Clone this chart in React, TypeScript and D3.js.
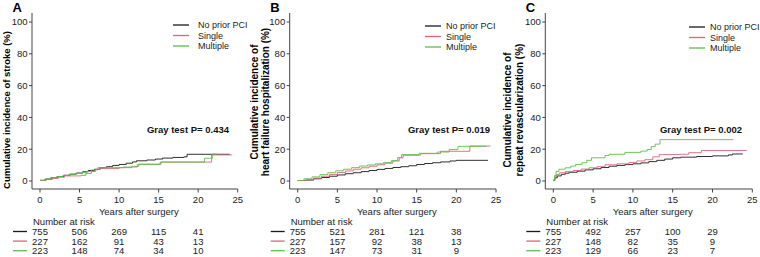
import React from "react";
import * as d3 from "d3";

// ---------- data ----------
const X_TICKS = [0, 5, 10, 15, 20, 25];
const Y_TICKS = [0, 20, 40, 60, 80, 100];
const RISK_TIMES = [0, 5, 10, 15, 20];
const SERIES_NAMES = ["No prior PCI", "Single", "Multiple"];
const SERIES_COLORS = ["#1a1a1a", "#dc6478", "#5cbf4a"];

const PANEL_LETTERS = ["A", "B", "C"];
const PANEL_TITLES = [
  ["Cumulative incidence of stroke (%)"],
  ["Cumulative incidence of", "heart failure hospitalization (%)"],
  ["Cumulative incidence of", "repeat revascularization (%)"],
];
const P_VALUES = ["0.434", "0.019", "0.002"];

// Panel A: stroke
const strokeNoPrior: [number, number][] = [
  [0, 0.4], [0.7, 1.2], [1.4, 2.0], [2.2, 2.8], [3, 3.6], [3.8, 4.3], [4.6, 5.0], [5.4, 5.8],
  [6.1, 6.6], [6.9, 7.4], [7.6, 8.3], [8.4, 9.0], [9.2, 9.8], [10, 10.4], [10.9, 11.2],
  [11.7, 12.0], [12.2, 12.7], [13.5, 13.2], [14.6, 13.8], [15.5, 14.4], [16.8, 14.8],
  [18.2, 15.2], [18.6, 16.8], [24, 16.8],
];
const strokeSingle: [number, number][] = [
  [0, 0.4], [0.8, 1.0], [1.6, 1.8], [2.4, 2.4], [3.1, 3.2], [5.2, 3.6], [5.8, 4.8], [6.5, 6.0],
  [7.0, 7.2], [7.6, 7.8], [10.0, 8.4], [11.6, 9.2], [12.5, 10.6], [15.3, 11.9], [21.7, 16.4],
  [24.3, 16.4],
];
const strokeMultiple: [number, number][] = [
  [0, 0.4], [0.6, 1.2], [1.3, 2.0], [2.1, 2.8], [2.9, 3.5], [3.7, 4.2], [4.5, 4.8], [5.3, 5.3],
  [5.9, 6.0], [6.5, 7.0], [7.3, 8.4], [10.5, 8.8], [12.3, 10.4], [15.2, 11.9], [20.8, 14.3],
  [21.8, 16.9], [22.4, 16.9],
];

// Panel B: heart failure hospitalization
const hfNoPrior: [number, number][] = [
  [0, 0.3], [1, 0.6], [2, 1.4], [3, 2.2], [4, 3.0], [5, 3.8], [6, 4.6], [7, 5.2], [8, 5.9],
  [9, 6.6], [10, 7.3], [11, 7.9], [12, 8.5], [13, 9.0], [14, 9.6], [15, 10.4], [16, 11.0],
  [17, 11.5], [18, 12.0], [19.2, 12.6], [20, 13.0], [24, 13.0],
];
const hfSingle: [number, number][] = [
  [0, 0.3], [1, 0.7], [2, 1.8], [3, 3.0], [4, 4.1], [5, 5.3], [6, 6.3], [7, 7.4], [8, 8.3],
  [9, 9.3], [10, 10.2], [11, 11.2], [12, 12.6], [12.8, 14.6], [13.3, 16.2], [15.5, 17.2],
  [18, 18.7], [21.7, 22.0], [24.3, 22.0],
];
const hfMultiple: [number, number][] = [
  [0, 0.3], [0.8, 1.4], [1.8, 2.6], [2.8, 4.0], [3.8, 5.2], [4.8, 6.4], [5.8, 7.4], [6.8, 8.4],
  [7.8, 9.4], [8.8, 10.1], [9.8, 10.8], [10.8, 11.6], [11.8, 12.8], [12.6, 14.8], [13.1, 16.6],
  [15.3, 17.4], [17.6, 18.2], [19.1, 19.8], [20.2, 21.8], [23.8, 21.8],
];

// Panel C: repeat revascularization
const revNoPrior: [number, number][] = [
  [0, 0.5], [0.2, 2.0], [0.5, 3.2], [1, 4.2], [1.5, 4.9], [2, 5.5], [3, 6.2], [4, 7.0],
  [5, 7.7], [6, 8.5], [7, 9.3], [8, 9.8], [9, 10.3], [10, 10.8], [11, 11.4], [12, 12.2],
  [13, 13.0], [14, 13.8], [15, 14.6], [16, 15.0], [18, 15.4], [20, 15.8], [22, 16.4],
  [22.5, 17.0], [23.8, 17.0],
];
const revSingle: [number, number][] = [
  [0, 0.5], [0.2, 2.6], [0.4, 4.2], [0.8, 5.2], [1.5, 5.9], [2.5, 6.6], [3.5, 7.5], [4.5, 8.3],
  [5.5, 9.0], [6.5, 10.2], [8, 10.8], [9.5, 11.7], [10.5, 12.6], [11.5, 13.4], [12.5, 15.2],
  [13.3, 16.6], [15.8, 16.8], [17, 17.8], [18.6, 19.2], [24.3, 19.2],
];
const revMultiple: [number, number][] = [
  [0, 0.5], [0.15, 3.5], [0.35, 6.0], [0.7, 7.4], [1.5, 8.3], [2.2, 9.4], [2.8, 10.4],
  [3.6, 11.5], [4.2, 13.0], [4.8, 14.6], [6.5, 16.0], [7, 16.8], [9, 18.0], [11, 18.8],
  [11.8, 19.8], [12.3, 21.6], [12.8, 23.2], [13.4, 26.0], [22.6, 26.0],
];

const RISK_A = [[755, 506, 269, 115, 41], [227, 162, 91, 43, 13], [223, 148, 74, 34, 10]];
const RISK_B = [[755, 521, 281, 121, 38], [227, 157, 92, 38, 13], [223, 147, 73, 31, 9]];
const RISK_C = [[755, 492, 257, 100, 29], [227, 148, 82, 35, 9], [223, 129, 66, 23, 7]];

const CURVES = [
  [strokeNoPrior, strokeSingle, strokeMultiple],
  [hfNoPrior, hfSingle, hfMultiple],
  [revNoPrior, revSingle, revMultiple],
];
const RISKS = [RISK_A, RISK_B, RISK_C];

// ---------- layout ----------
const LAYOUT = [
  { x0: 40, x1: 237.7, titleX: [6.5], titleY: 110, titleSize: 9.5, legendX: 173, legendTextX: 198, legendY: 25, pRight: 229 },
  { x0: 297.7, x1: 496, titleX: [254, 265.5], titleY: 102, titleSize: 10, legendX: 425, legendTextX: 446, legendY: 26, pRight: 490 },
  { x0: 553.3, x1: 752.3, titleX: [507.5, 519], titleY: 110, titleSize: 10, legendX: 689, legendTextX: 710, legendY: 27, pRight: 742 },
];
const Y0 = 181;
const Y100 = 22;
const AXIS_Y = 189;
const FONT = "'Liberation Sans', Arial, Helvetica, sans-serif";

function Panel({ idx }: { idx: number }) {
  const L = LAYOUT[idx];
  const x = d3.scaleLinear().domain([0, 25]).range([L.x0, L.x1]);
  const y = d3.scaleLinear().domain([0, 100]).range([Y0, Y100]);
  const line = d3
    .line<[number, number]>()
    .x((d) => x(d[0]))
    .y((d) => y(d[1]))
    .curve(d3.curveStepAfter);
  const axisX = L.x0 - 8;
  const titles = PANEL_TITLES[idx];
  const risk = RISKS[idx];
  return (
    <g fontFamily={FONT}>
      <text x={axisX - 19.5} y={12} fontSize={13} fontWeight="bold" fill="#000">
        {PANEL_LETTERS[idx]}
      </text>
      {titles.map((t, i) => (
        <text
          key={i}
          transform={`translate(${L.titleX[i]},${L.titleY}) rotate(-90)`}
          textAnchor="middle"
          dominantBaseline="central"
          fontSize={L.titleSize}
          fontWeight="bold"
          fill="#000"
        >
          {t}
        </text>
      ))}
      {/* y axis */}
      <line x1={axisX} x2={axisX} y1={13} y2={AXIS_Y} stroke="#444" strokeWidth={1} />
      {Y_TICKS.map((t) => (
        <g key={t}>
          <line x1={axisX - 3} x2={axisX} y1={y(t)} y2={y(t)} stroke="#444" />
          <text x={axisX - 4.5} y={y(t) + 3.4} textAnchor="end" fontSize={9.5} fill="#222">
            {t}
          </text>
        </g>
      ))}
      {/* x axis */}
      <line x1={axisX} x2={x(25)} y1={AXIS_Y} y2={AXIS_Y} stroke="#444" strokeWidth={1} />
      {X_TICKS.map((t) => (
        <g key={t}>
          <line x1={x(t)} x2={x(t)} y1={AXIS_Y} y2={AXIS_Y + 3.5} stroke="#444" />
          <text x={x(t)} y={203} textAnchor="middle" fontSize={9.5} fill="#222">
            {t}
          </text>
        </g>
      ))}
      <text x={x(12.5)} y={214.5} textAnchor="middle" fontSize={9.5} fill="#222">
        Years after surgery
      </text>
      {/* curves */}
      {CURVES[idx].map((s, i) => (
        <path key={i} d={line(s) || ""} fill="none" stroke={SERIES_COLORS[i]} strokeWidth={0.9} />
      ))}
      {/* legend */}
      {SERIES_NAMES.map((n, i) => (
        <g key={n}>
          <line
            x1={L.legendX}
            x2={L.legendX + 16}
            y1={L.legendY + i * 10.5}
            y2={L.legendY + i * 10.5}
            stroke={SERIES_COLORS[i]}
            strokeWidth={1.3}
          />
          <text x={L.legendTextX} y={L.legendY + i * 10.5 + 3.2} fontSize={9} fill="#222">
            {n}
          </text>
        </g>
      ))}
      {/* gray test */}
      <text x={L.pRight} y={133} textAnchor="end" fontSize={9.5} fontWeight="bold" fill="#111">
        {`Gray test P= ${P_VALUES[idx]}`}
      </text>
      {/* risk table */}
      <text x={L.x0 - 7} y={224.5} fontSize={9.5} fill="#222">
        Number at risk
      </text>
      {risk.map((row, r) => (
        <g key={r}>
          <line
            x1={L.x0 - 27}
            x2={L.x0 - 13}
            y1={231.5 + r * 9.6}
            y2={231.5 + r * 9.6}
            stroke={SERIES_COLORS[r]}
            strokeWidth={1.3}
          />
          {row.map((v, j) => (
            <text
              key={j}
              x={x(RISK_TIMES[j])}
              y={235 + r * 9.6}
              textAnchor="middle"
              fontSize={9.5}
              fill="#222"
            >
              {v}
            </text>
          ))}
        </g>
      ))}
    </g>
  );
}

export default function App() {
  return (
    <svg
      width={760}
      height={257}
      style={{ position: "absolute", left: 0, top: 0, display: "block", background: "#fff" }}
    >
      <rect width={760} height={257} fill="#fff" />
      {[0, 1, 2].map((i) => (
        <Panel key={i} idx={i} />
      ))}
    </svg>
  );
}
